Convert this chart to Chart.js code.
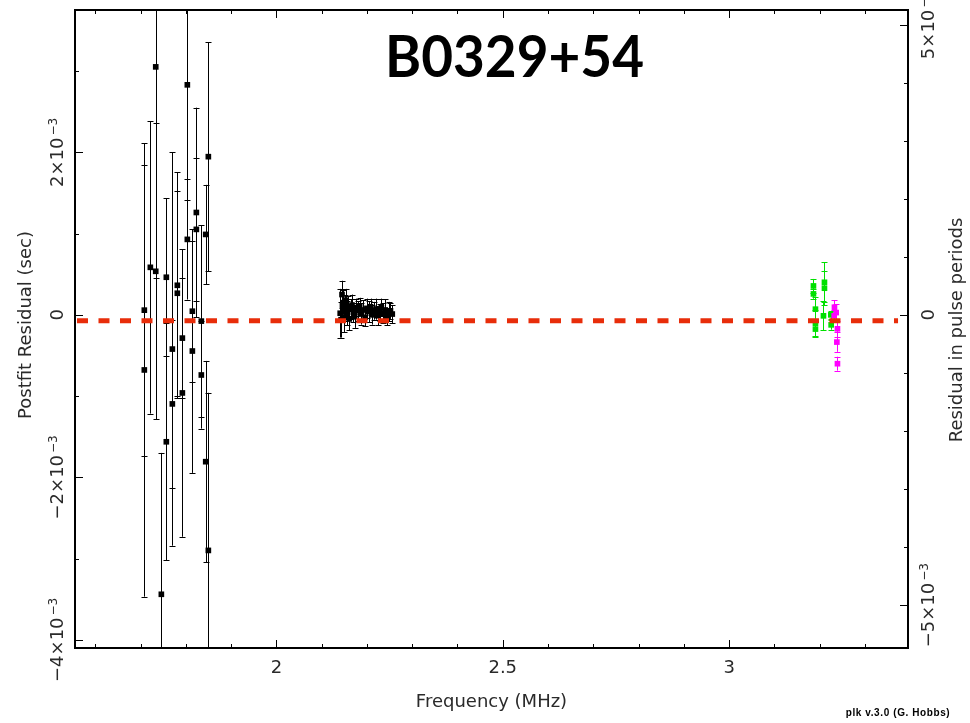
<!DOCTYPE html>
<html>
<head>
<meta charset="utf-8">
<script src="https://cdn.jsdelivr.net/npm/chart.js@4.4.0/dist/chart.umd.min.js"></script>
<style>
  html, body { margin: 0; padding: 0; background: #fff; }
  #wrap { width: 970px; height: 723px; }
</style>
</head>
<body>
<div id="wrap"><canvas id="plk" width="970" height="723"></canvas></div>
<script>
// --- data: frequency (MHz), postfit residual (ms), error (ms) ---
const lowFreq = [1.7084, 1.7084, 1.7217, 1.7336, 1.7336, 1.7460, 1.7570, 1.7570, 1.7703, 1.7703,
                 1.7813, 1.7813, 1.7924, 1.7924, 1.8034, 1.8034, 1.8145, 1.8145, 1.8233, 1.8233,
                 1.8343, 1.8343, 1.8440, 1.8440, 1.8498, 1.8498];
const lowRes  = [0.058, -0.678, 0.585, 3.052, 0.536, -3.439, 0.463, -1.562, -0.421, -1.096,
                 0.364, 0.266, -0.286, -0.961, 2.831, 0.929, 0.045, -0.445, 1.260, 1.052,
                 -0.077, -0.740, 0.990, -1.807, 1.947, -2.899];
const lowErr  = [1.79, 2.79, 1.80, 2.60, 1.82, 1.74, 0.97, 1.46, 2.42, 1.03,
                 1.39, 1.26, 0.74, 1.77, 1.42, 0.74, 0.87, 1.50, 1.29, 0.88,
                 1.18, 0.66, 0.61, 1.24, 1.41, 1.94];

const midFreq = [2.141, 2.143, 2.145, 2.146, 2.148, 2.150, 2.152, 2.154, 2.156, 2.158,
                 2.161, 2.164, 2.167, 2.170, 2.173, 2.176, 2.180, 2.184, 2.188, 2.192,
                 2.196, 2.200, 2.204, 2.208, 2.212, 2.216, 2.220, 2.224, 2.228, 2.232,
                 2.236, 2.240, 2.244, 2.248, 2.252, 2.256];
const midRes  = [0.02, -0.06, 0.25, 0.12, 0.15, -0.03, 0.08, 0.18, 0.02, 0.10,
                 -0.05, 0.07, 0.12, 0.03, -0.02, 0.09, 0.05, 0.11, 0.01, 0.06,
                 -0.03, 0.08, 0.04, 0.10, 0.00, 0.05, 0.07, -0.01, 0.03, 0.09,
                 0.02, 0.06, -0.02, 0.04, 0.05, 0.01];
const midErr  = [0.30, 0.22, 0.17, 0.20, 0.15, 0.18, 0.16, 0.14, 0.15, 0.13,
                 0.14, 0.12, 0.13, 0.12, 0.14, 0.11, 0.12, 0.10, 0.13, 0.12,
                 0.11, 0.12, 0.13, 0.10, 0.12, 0.11, 0.13, 0.12, 0.10, 0.11,
                 0.12, 0.13, 0.11, 0.12, 0.10, 0.11];

const greenFreq = [3.1862, 3.1862, 3.1906, 3.1906, 3.1906, 3.2105, 3.2105, 3.2083, 3.2246, 3.2253];
const greenRes  = [0.356, 0.258, 0.070, -0.102, -0.175, 0.401, 0.328, -0.012, 0.000, -0.123];
const greenErr  = [0.086, 0.060, 0.150, 0.160, 0.100, 0.245, 0.210, 0.180, 0.050, 0.060];

const magFreq = [3.2326, 3.2364, 3.2320, 3.2392, 3.2379, 3.2392];
const magRes  = [0.094, 0.028, -0.012, -0.172, -0.335, -0.601];
const magErr  = [0.086, 0.100, 0.074, 0.100, 0.120, 0.086];

const fitLevel = -0.071;          // ms, dashed line
const fitFrom = 1.5597, fitTo = 3.373;
const PERIOD = 0.71452;           // s, pulse period for right axis

// axis ticks
const xMajor = [2, 2.5, 3];
const xMinor = [1.6, 1.7, 1.8, 1.9, 2.1, 2.2, 2.3, 2.4, 2.6, 2.7, 2.8, 2.9, 3.1, 3.2, 3.3];
const yMajor = [-4, -2, 0, 2];                       // ms
const yMinor = [-3, -1, 1, 3];
const y2Major = [-5, 0, 5];                          // 1e-3 periods
const y2Minor = [-4, -3, -2, -1, 1, 2, 3, 4];

const X_MIN = 1.5553, X_MAX = 3.395;
const Y_MIN = -4.100e-3, Y_MAX = 3.752e-3;

function pts(fr, res) {
    return fr.map((f, i) => ({ x: f, y: res[i] * 1e-3 }));
}

const TXT = '#2a2a2a';
const AX_FONT = '18px "DejaVu Sans"';
const SUP_FONT = '12px "DejaVu Sans"';

// rotated label, reading bottom to top, centred on (x,y); x is the baseline
function rotLabel(ctx, main, sup, x, y) {
    ctx.save();
    ctx.translate(x, y);
    ctx.rotate(-Math.PI / 2);
    ctx.font = AX_FONT;
    const wMain = ctx.measureText(main).width;
    let wSup = 0;
    if (sup) { ctx.font = SUP_FONT; wSup = ctx.measureText(sup).width + 2; }
    const start = -(wMain + wSup) / 2;
    ctx.textAlign = 'left';
    ctx.textBaseline = 'alphabetic';
    ctx.fillStyle = TXT;
    ctx.font = AX_FONT;
    ctx.fillText(main, start, 0);
    if (sup) {
        ctx.font = SUP_FONT;
        ctx.fillText(sup, start + wMain + 2, -6.5);
    }
    ctx.restore();
}

function sciParts(v) {
    if (v === 0) return ['0', null];
    const sign = v < 0 ? '\u2212' : '';
    return [sign + Math.abs(v) + '\u00d710', '\u22123'];
}

const pgplot = {
    id: 'pgplot',
    beforeDatasetsDraw(chart) {
        const { ctx, chartArea: ca } = chart;
        const xs = chart.scales.x, ys = chart.scales.y;
        ctx.save();
        ctx.beginPath();
        ctx.rect(ca.left, ca.top, ca.right - ca.left, ca.bottom - ca.top);
        ctx.clip();
        chart.data.datasets.forEach(ds => {
            if (!ds.errors) return;
            ctx.strokeStyle = ds.barColor;
            ctx.lineWidth = 1;
            ds.data.forEach((p, i) => {
                const px = Math.round(xs.getPixelForValue(p.x)) + 0.5;
                const e = ds.errors[i] * 1e-3;
                const yTop = ys.getPixelForValue(p.y + e);
                const yBot = ys.getPixelForValue(p.y - e);
                ctx.beginPath();
                ctx.moveTo(px, yTop); ctx.lineTo(px, yBot);
                ctx.moveTo(px - 3, Math.round(yTop) + 0.5); ctx.lineTo(px + 3, Math.round(yTop) + 0.5);
                ctx.moveTo(px - 3, Math.round(yBot) + 0.5); ctx.lineTo(px + 3, Math.round(yBot) + 0.5);
                ctx.stroke();
            });
        });
        ctx.restore();
    },
    afterDraw(chart) {
        const { ctx, chartArea: ca } = chart;
        const xs = chart.scales.x, ys = chart.scales.y, y2 = chart.scales.y2;
        ctx.save();
        ctx.strokeStyle = '#000';

        // ticks
        ctx.lineWidth = 1;
        const vTick = (v, len) => {
            const px = Math.round(xs.getPixelForValue(v)) + 0.5;
            ctx.beginPath();
            ctx.moveTo(px, ca.bottom); ctx.lineTo(px, ca.bottom - len);
            ctx.moveTo(px, ca.top); ctx.lineTo(px, ca.top + len);
            ctx.stroke();
        };
        xMajor.forEach(v => vTick(v, 8));
        xMinor.forEach(v => vTick(v, 4));
        const hTick = (scale, v, len, side) => {
            const py = Math.round(scale.getPixelForValue(v)) + 0.5;
            ctx.beginPath();
            if (side === 'l') { ctx.moveTo(ca.left, py); ctx.lineTo(ca.left + len, py); }
            else { ctx.moveTo(ca.right, py); ctx.lineTo(ca.right - len, py); }
            ctx.stroke();
        };
        yMajor.forEach(v => hTick(ys, v * 1e-3, 8, 'l'));
        yMinor.forEach(v => hTick(ys, v * 1e-3, 4, 'l'));
        y2Major.forEach(v => hTick(y2, v * 1e-3, 8, 'r'));
        y2Minor.forEach(v => hTick(y2, v * 1e-3, 4, 'r'));

        // frame
        ctx.lineWidth = 2;
        ctx.strokeRect(ca.left, ca.top, ca.right - ca.left, ca.bottom - ca.top);

        // x tick labels
        ctx.fillStyle = TXT;
        ctx.font = AX_FONT;
        ctx.textAlign = 'center';
        ctx.textBaseline = 'alphabetic';
        xMajor.forEach(v => ctx.fillText(String(v), xs.getPixelForValue(v), 673));

        // y tick labels (rotated)
        yMajor.forEach(v => {
            const [m, s] = sciParts(v);
            rotLabel(ctx, m, s, 63, ys.getPixelForValue(v * 1e-3));
        });
        y2Major.forEach(v => {
            const [m, s] = sciParts(v);
            rotLabel(ctx, m, s, 934, y2.getPixelForValue(v * 1e-3));
        });

        // axis titles
        ctx.fillStyle = TXT;
        ctx.font = AX_FONT;
        ctx.textAlign = 'center';
        ctx.fillText('Frequency (MHz)', (ca.left + ca.right) / 2, 707);
        rotLabel(ctx, 'Postfit Residual (sec)', null, 31, 325);
        rotLabel(ctx, 'Residual in pulse periods', null, 962, 330);

        // title
        ctx.save();
        ctx.font = 'bold 57px Lato';
        const tw = ctx.measureText('B0329+54').width;
        ctx.translate(514.5, 77);
        ctx.scale(259 / tw, 1);
        ctx.fillStyle = '#000';
        ctx.textAlign = 'center';
        ctx.fillText('B0329+54', 0, 0);
        ctx.restore();

        // credit
        ctx.font = 'bold 10px "Liberation Sans"';
        ctx.letterSpacing = '0.6px';
        ctx.fillStyle = '#000';
        ctx.textAlign = 'center';
        ctx.fillText('plk v.3.0 (G. Hobbs)', 898, 716);
        ctx.restore();
    }
};

const ctx = document.getElementById('plk').getContext('2d');
new Chart(ctx, {
    type: 'scatter',
    data: {
        datasets: [
            {
                type: 'line',
                data: [{ x: fitFrom, y: fitLevel * 1e-3 }, { x: fitTo, y: fitLevel * 1e-3 }],
                borderColor: 'rgb(232, 45, 10)',
                borderWidth: 5,
                borderDash: [11, 10.5],
                pointRadius: 0,
                fill: false
            },
            {
                data: pts(magFreq, magRes), errors: magErr, barColor: '#ff00ff',
                backgroundColor: '#ff00ff', pointStyle: 'rect', pointRadius: 4, borderWidth: 0
            },
            {
                data: pts(greenFreq, greenRes), errors: greenErr, barColor: '#00e000',
                backgroundColor: '#00e000', pointStyle: 'rect', pointRadius: 4, borderWidth: 0
            },
            {
                data: pts(midFreq, midRes), errors: midErr, barColor: '#000',
                backgroundColor: '#000', pointStyle: 'rect', pointRadius: 4, borderWidth: 0
            },
            {
                data: pts(lowFreq, lowRes), errors: lowErr, barColor: '#000',
                backgroundColor: '#000', pointStyle: 'rect', pointRadius: 4, borderWidth: 0
            }
        ]
    },
    options: {
        responsive: false,
        animation: false,
        events: [],
        layout: { padding: { left: 75, right: 62, top: 10, bottom: 75 } },
        plugins: {
            legend: { display: false },
            tooltip: { enabled: false }
        },
        scales: {
            x: { type: 'linear', min: X_MIN, max: X_MAX, display: false },
            y: { type: 'linear', min: Y_MIN, max: Y_MAX, display: false },
            y2: { type: 'linear', position: 'right', min: Y_MIN / PERIOD, max: Y_MAX / PERIOD, display: false }
        }
    },
    plugins: [pgplot]
});
</script>
</body>
</html>
